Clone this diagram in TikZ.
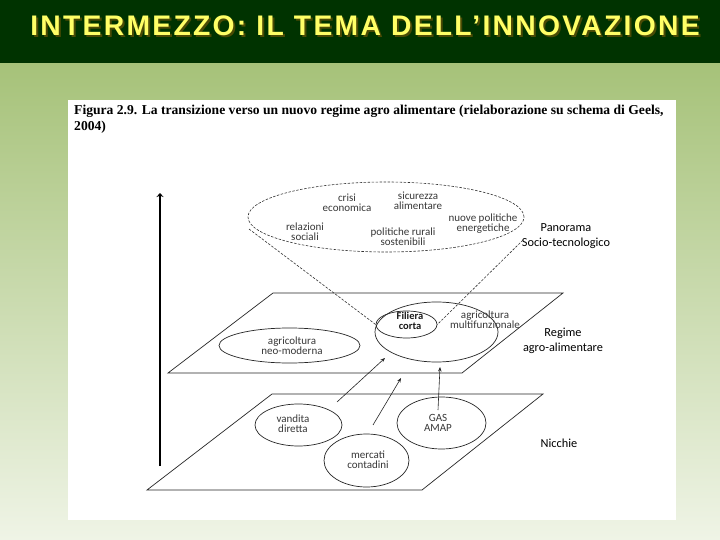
\documentclass[tikz,border=0pt]{standalone}
\usepackage{fontspec}
\setmainfont{Liberation Serif}
\newfontfamily\titlefont{Liberation Sans}[LetterSpace=8]
\newfontfamily\calfont{Carlito}
\usetikzlibrary{arrows.meta,shapes.geometric}
\definecolor{barcol}{HTML}{003300}
\definecolor{bgtop}{HTML}{A6C279}
\definecolor{bgbot}{HTML}{EFF4E6}
\definecolor{titleyellow}{HTML}{FFFF66}
\definecolor{titleshadow}{HTML}{4A4A05}
\newcommand{\titlestring}{INTERMEZZO: IL TEMA DELL’INNOVAZIONE}
\begin{document}
\begin{tikzpicture}[x=1pt,y=1pt,
  plane/.style={draw=black!85, line width=0.7pt, line join=miter},
  bubble/.style={ellipse, draw=black!85, line width=0.7pt, inner sep=0pt},
  inner/.style={font=\calfont\fontsize{11}{10}\selectfont, text=black!78, align=center, inner sep=0pt},
  innerbold/.style={font=\calfont\bfseries\fontsize{10.5}{10.5}\selectfont, text=black!90, align=center, inner sep=0pt},
  level/.style={font=\calfont\fontsize{12.3}{14.5}\selectfont, text=black, align=center, inner sep=0pt},
  link/.style={draw=black!85, line width=0.6pt, -{Stealth[length=4.5pt,width=3.5pt]}},
  cone/.style={draw=black!80, line width=0.6pt, dash pattern=on 2.5pt off 1.5pt},
  axisline/.style={draw=black, line width=1.4pt, -{Stealth[length=4pt,width=7pt]}},
  titletext/.style={font=\titlefont\bfseries\fontsize{28.3}{30}\selectfont, anchor=base, inner sep=0pt},
  captiontext/.style={font=\bfseries\fontsize{13.6}{15}\selectfont, anchor=base west, inner sep=0pt, text=black}
]
\useasboundingbox (0,0) rectangle (720,-540);
% background
\shade[top color=bgtop, bottom color=bgbot] (0,-63) rectangle (720,-540);
\fill[barcol] (0,0) rectangle (720,-63);
\fill[white] (68,-100) rectangle (676,-520);
% title with shadow
\node[titletext] (title) at (365,-36) {\makebox[0pt][l]{\hspace{2pt}\raisebox{-2pt}{\color{titleshadow}\titlestring}}\color{titleyellow}\titlestring};
% caption
\node[captiontext] (cap1) at (74,-115) {Figura 2.9. La transizione verso un nuovo regime agro alimentare (rielaborazione su schema di Geels,};
\node[captiontext] (cap2) at (74,-131) {2004)};
% vertical axis
\coordinate (axisbot) at (160,-466);
\coordinate (axistop) at (160,-193);
\draw[axisline] (axisbot) -- (axistop);
% top dashed ellipse (socio-technical landscape)
\node[ellipse, cone, minimum width=276pt, minimum height=70pt, inner sep=0pt] (land) at (386,-217) {};
\node[inner] (crisi) at (347,-203) {crisi\\economica};
\node[inner] (sicur) at (418,-201) {sicurezza\\alimentare};
\node[inner] (relaz) at (305,-232) {relazioni\\sociali};
\node[inner] (polrur) at (403,-237) {politiche rurali\\sostenibili};
\node[inner] (polen) at (483,-224) {nuove politiche\\energetiche};
\node[level] (panorama) at (566,-236) {Panorama\\Socio-tecnologico};
% middle plane (regime)
\draw[plane] (273,-293) -- (563,-293) -- (462,-373) -- (168,-373) -- cycle;
\node[bubble, minimum width=141pt, minimum height=35pt] (neo) at (289.5,-345.5) {};
\node[inner] (neotext) at (292,-346) {agricoltura\\neo-moderna};
\node[bubble, minimum width=123pt, minimum height=60pt] (multi) at (436.5,-332) {};
\node[bubble, minimum width=61pt, minimum height=27pt] (fil) at (406.5,-324.5) {};
\node[innerbold] (filtext) at (410,-321) {Filiera\\corta};
\node[inner] (multitext) at (485,-320) {agricoltura\\multifunzionale};
\node[level] (regime) at (563,-341) {Regime\\agro-alimentare};
% cone lines
\coordinate (coneL) at (249,-229);
\coordinate (coneR) at (523,-240);
\draw[cone] (coneL) -- (fil.west);
\draw[cone] (coneR) -- (fil.east);
% bottom plane (niches)
\draw[plane] (272,-394) -- (543,-394) -- (422,-490) -- (147,-490) -- cycle;
\node[bubble, minimum width=87pt, minimum height=42pt] (vend) at (298.5,-425) {};
\node[inner] (vendtext) at (293,-424) {vandita\\diretta};
\node[bubble, minimum width=85pt, minimum height=53pt] (merc) at (366.5,-460.5) {};
\node[inner] (merctext) at (368,-460) {mercati\\contadini};
\node[bubble, minimum width=89pt, minimum height=52pt] (gas) at (441.5,-423) {};
\node[inner] (gastext) at (438,-423) {GAS\\AMAP};
\node[level] (nicchie) at (559,-443) {Nicchie};
% arrows from niches to regime
\coordinate (a1s) at (337,-402);
\coordinate (a1e) at (385,-358);
\coordinate (a2s) at (373,-425);
\coordinate (a2e) at (401,-378);
\coordinate (a3s) at (438,-410);
\coordinate (a3e) at (440,-367);
\draw[link] (a1s) -- (a1e);
\draw[link] (a2s) -- (a2e);
\draw[link] (a3s) -- (a3e);
\end{tikzpicture}
\end{document}
